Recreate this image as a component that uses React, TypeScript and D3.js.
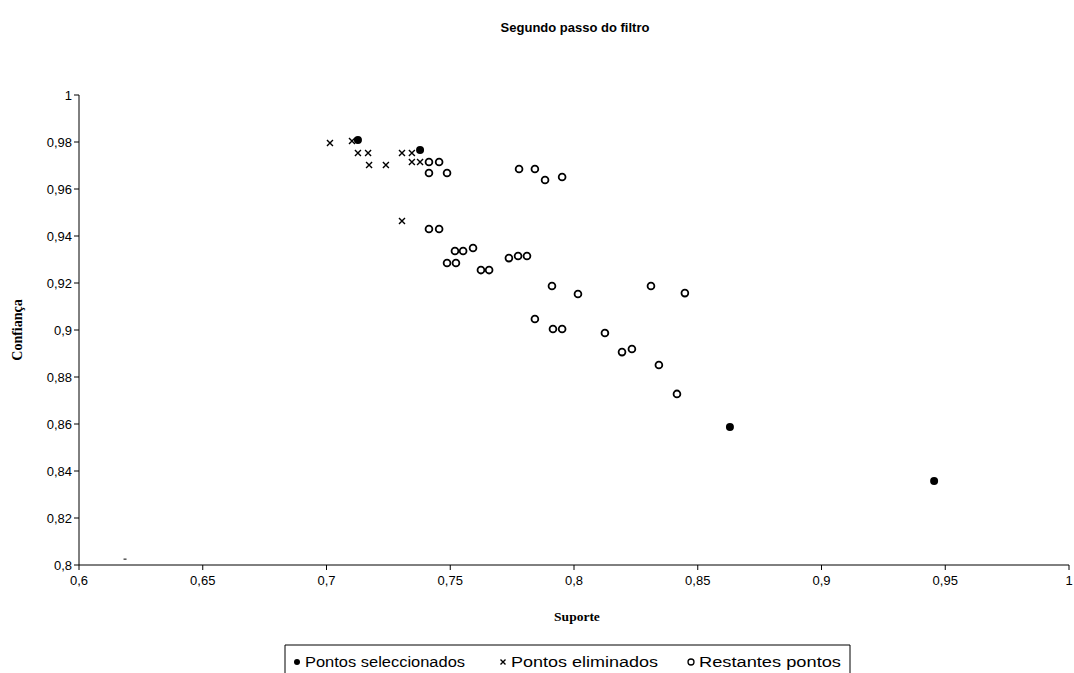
import React, { useEffect } from "react";
import * as d3 from "d3";

const width = 1074;
const height = 673;

// [suporte, confiança]
const selecionados: [number, number][] = [
  [0.7127, 0.9809],
  [0.7378, 0.9766],
  [0.863, 0.8587],
  [0.9455, 0.8357],
];

const eliminados: [number, number][] = [
  [0.7014, 0.9796],
  [0.7103, 0.9804],
  [0.7127, 0.9753],
  [0.7168, 0.9753],
  [0.7172, 0.9702],
  [0.724, 0.9702],
  [0.7305, 0.9753],
  [0.7345, 0.9753],
  [0.7345, 0.9715],
  [0.7378, 0.9715],
  [0.7305, 0.9464],
];

const restantes: [number, number][] = [
  [0.7414, 0.9715],
  [0.7455, 0.9715],
  [0.7414, 0.9668],
  [0.7487, 0.9668],
  [0.7778, 0.9685],
  [0.7842, 0.9685],
  [0.7883, 0.9638],
  [0.7952, 0.9651],
  [0.7414, 0.943],
  [0.7455, 0.943],
  [0.7519, 0.9336],
  [0.7552, 0.9336],
  [0.7592, 0.9349],
  [0.7487, 0.9285],
  [0.7523, 0.9285],
  [0.7624, 0.9255],
  [0.7657, 0.9255],
  [0.7737, 0.9306],
  [0.7774, 0.9315],
  [0.781, 0.9315],
  [0.7911, 0.9187],
  [0.8016, 0.9153],
  [0.7842, 0.9047],
  [0.7915, 0.9004],
  [0.7952, 0.9004],
  [0.8125, 0.8987],
  [0.8194, 0.8906],
  [0.8234, 0.8919],
  [0.8343, 0.8851],
  [0.8416, 0.8728],
  [0.8311, 0.9187],
  [0.8448, 0.9157],
];

// stray dash near the origin
const traco: [number, number][] = [[0.6186, 0.8025]];

const xTicks = [0.6, 0.65, 0.7, 0.75, 0.8, 0.85, 0.9, 0.95, 1];
const yTicks = [0.8, 0.82, 0.84, 0.86, 0.88, 0.9, 0.92, 0.94, 0.96, 0.98, 1];

const legendItems = ["Pontos seleccionados", "Pontos eliminados", "Restantes pontos"];

const x = d3.scaleLinear().domain([0.6, 1]).range([79, 1069]);
const y = d3.scaleLinear().domain([0.8, 1]).range([565, 95]);

const fmt = (v: number) => String(+v.toFixed(2)).replace(".", ",");

const sans = "'Liberation Sans', Arial, sans-serif";
const serif = "'Liberation Serif', 'Times New Roman', serif";

const Cross = ({ cx, cy, s = 3 }: { cx: number; cy: number; s?: number }) => (
  <path
    d={`M${cx - s},${cy - s}L${cx + s},${cy + s}M${cx - s},${cy + s}L${cx + s},${cy - s}`}
    stroke="#000"
    strokeWidth={1.4}
    fill="none"
  />
);

export default function App() {
  useEffect(() => {
    document.body.style.margin = "0";
  }, []);

  // legend marker x and text widths, as in the original
  const legendX = [297, 503, 691];
  const legendW = [160, 147, 142];

  return (
    <svg width={width} height={height} style={{ display: "block", background: "#fff" }}>
      <text x={575} y={32} textAnchor="middle" fontFamily={sans} fontWeight={700} fontSize={13}>
        Segundo passo do filtro
      </text>

      {/* y axis */}
      <line x1={x(0.6)} x2={x(0.6)} y1={y(1)} y2={y(0.8)} stroke="#000" />
      {yTicks.map((t) => (
        <g key={"y" + t}>
          <line x1={x(0.6) - 5} x2={x(0.6)} y1={y(t)} y2={y(t)} stroke="#000" />
          <text x={x(0.6) - 7} y={y(t)} dy="0.35em" textAnchor="end" fontFamily={sans} fontSize={13}>
            {fmt(t)}
          </text>
        </g>
      ))}

      {/* x axis */}
      <line x1={x(0.6)} x2={x(1)} y1={y(0.8)} y2={y(0.8)} stroke="#000" />
      {xTicks.map((t) => (
        <g key={"x" + t}>
          <line x1={x(t)} x2={x(t)} y1={y(0.8)} y2={y(0.8) + 5} stroke="#000" />
          <text x={x(t)} y={y(0.8) + 20} textAnchor="middle" fontFamily={sans} fontSize={13}>
            {fmt(t)}
          </text>
        </g>
      ))}

      <text x={577} y={621} textAnchor="middle" fontFamily={serif} fontWeight={700} fontSize={13.5}>
        Suporte
      </text>
      <text
        transform={`translate(22,${y(0.9)}) rotate(-90)`}
        textAnchor="middle"
        fontFamily={serif}
        fontWeight={700}
        fontSize={14}
      >
        Confiança
      </text>

      {/* points */}
      {traco.map(([a, b], i) => (
        <line key={"t" + i} x1={x(a) - 1.5} x2={x(a) + 1.5} y1={y(b)} y2={y(b)} stroke="#000" />
      ))}
      {eliminados.map(([a, b], i) => (
        <Cross key={"e" + i} cx={x(a)} cy={y(b)} />
      ))}
      {restantes.map(([a, b], i) => (
        <circle key={"r" + i} cx={x(a)} cy={y(b)} r={3.4} fill="none" stroke="#000" strokeWidth={1.8} />
      ))}
      {selecionados.map(([a, b], i) => (
        <circle key={"s" + i} cx={x(a)} cy={y(b)} r={4} fill="#000" />
      ))}

      {/* legend */}
      <path d="M285,673V645H850V673" fill="none" stroke="#000" />
      <circle cx={legendX[0]} cy={662} r={3} fill="#000" />
      <Cross cx={legendX[1]} cy={662} s={2.5} />
      <circle cx={legendX[2]} cy={662} r={3} fill="none" stroke="#000" strokeWidth={1.3} />
      {legendItems.map((t, i) => (
        <text
          key={t}
          x={legendX[i] + 8}
          y={667}
          fontFamily={sans}
          fontSize={14}
          textLength={legendW[i]}
          lengthAdjust="spacingAndGlyphs"
        >
          {t}
        </text>
      ))}
    </svg>
  );
}
